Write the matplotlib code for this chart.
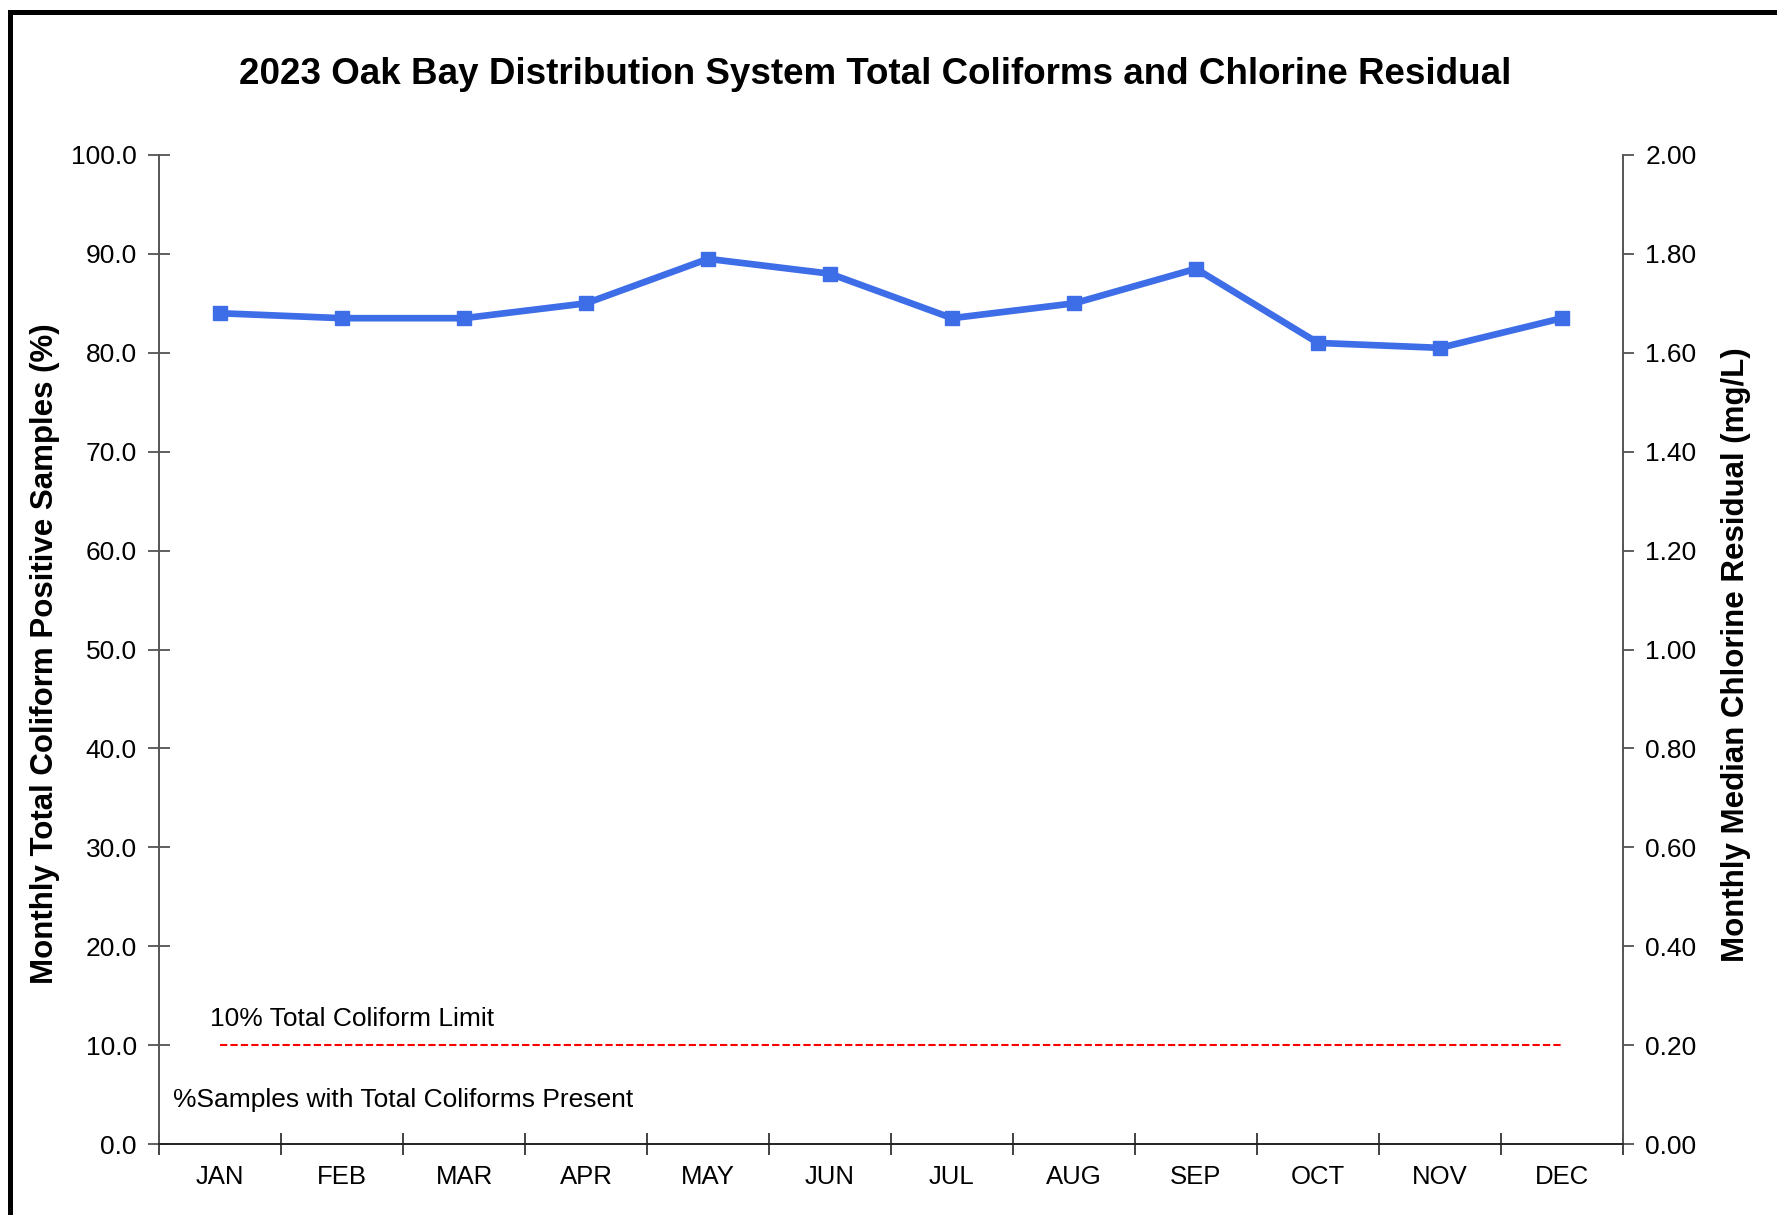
import matplotlib.pyplot as plt
from matplotlib.patches import Rectangle

plt.rcParams['font.family'] = ['Liberation Sans', 'DejaVu Sans']

months = ['JAN', 'FEB', 'MAR', 'APR', 'MAY', 'JUN',
          'JUL', 'AUG', 'SEP', 'OCT', 'NOV', 'DEC']
chlorine = [1.68, 1.67, 1.67, 1.70, 1.79, 1.76,
            1.67, 1.70, 1.77, 1.62, 1.61, 1.67]
coliform_limit = [10.0] * 12

x = list(range(len(months)))

fig = plt.figure(figsize=(17.77, 12.15), dpi=100)
ax = fig.add_axes([159 / 1777, 1 - 1144 / 1215, (1623 - 159) / 1777, (1144 - 155) / 1215])
ax2 = ax.twinx()

# coliform limit on left axis
ax.plot(x, coliform_limit, color='red', lw=1.5, dashes=[3.5, 1.5])
ax.set_xlim(-0.5, 11.5)
ax.set_ylim(0, 100)
ax.set_yticks(range(0, 101, 10))
ax.set_yticklabels([f'{v:.1f}' for v in range(0, 101, 10)])
ax.set_xticks([i - 0.5 for i in range(13)])
ax.set_xticklabels([])
ax.set_xticks(x, minor=True)
ax.set_xticklabels(months, minor=True)
ax.tick_params(axis='x', which='major', direction='inout', length=16, width=1.2, color='#222222')
ax.tick_params(axis='x', which='minor', length=0, labelsize=18.5, pad=15)
ax.tick_params(axis='y', direction='inout', length=16, width=1.2, color='#444444', labelsize=19, pad=8)

# chlorine residual on right axis
ax2.plot(x, chlorine, color='#3E6DE8', lw=4.8, marker='s', markersize=10)
ax2.set_ylim(0, 2)
ax2.set_yticks([i * 0.2 for i in range(11)])
ax2.set_yticklabels([f'{i * 0.2:.2f}' for i in range(11)])
ax2.tick_params(axis='y', direction='out', length=8, width=1.2, color='#444444', labelsize=19, pad=8)

for a in (ax, ax2):
    a.spines['top'].set_visible(False)
    a.spines['left'].set_color('#555555')
    a.spines['right'].set_color('#555555')
    a.spines['bottom'].set_color('#222222')
    a.spines['left'].set_linewidth(1.2)
    a.spines['right'].set_linewidth(1.2)
    a.spines['bottom'].set_linewidth(1.2)

ax.text(-0.08, 12.6, '10% Total Coliform Limit', fontsize=19, va='center', ha='left')
ax.text(-0.385, 4.4, '%Samples with Total Coliforms Present', fontsize=19, va='center', ha='left')

fig.text(875 / 1777, 1 - 74 / 1215,
         '2023 Oak Bay Distribution System Total Coliforms and Chlorine Residual',
         fontsize=26.5, fontweight='bold', ha='center', va='center')
fig.text(45 / 1777, 1 - 654 / 1215, 'Monthly Total Coliform Positive Samples (%)',
         fontsize=22.5, fontweight='bold', rotation=90, ha='center', va='center')
fig.text(1736 / 1777, 1 - 655 / 1215, 'Monthly Median Chlorine Residual (mg/L)',
         fontsize=22.5, fontweight='bold', rotation=90, ha='center', va='center')

# outer chart border (left and top edges visible)
fig.patches.append(Rectangle((10 / 1777, -0.2), 1.5, 1.2 - 11.5 / 1215,
                             transform=fig.transFigure, fill=False,
                             edgecolor='black', lw=3.6))

fig.savefig('out.png', dpi=100)
